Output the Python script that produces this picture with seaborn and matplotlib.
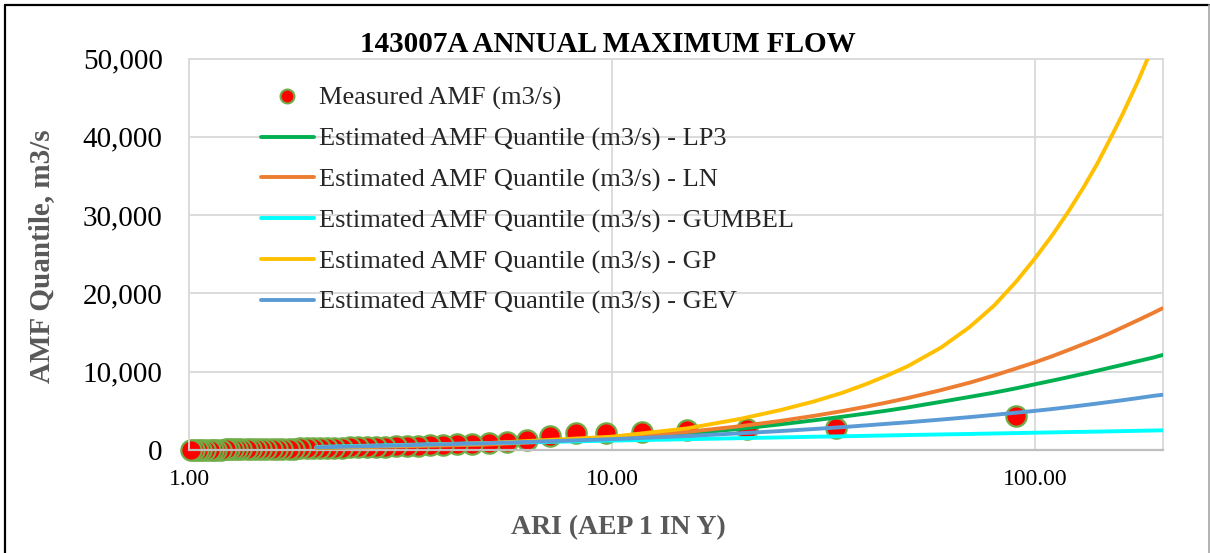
import matplotlib
matplotlib.use("Agg")
import matplotlib.pyplot as plt
import seaborn as sns
import pandas as pd
from matplotlib.lines import Line2D
from matplotlib.ticker import FixedLocator, NullLocator, FuncFormatter

# ---------------- data ----------------
title = "143007A ANNUAL MAXIMUM FLOW"
x_label = "ARI (AEP 1 IN Y)"
y_label = "AMF Quantile, m3/s"

measured_ari = [90.33, 33.88, 20.85, 15.06, 11.78, 9.68, 8.21, 7.13, 6.30, 5.65,
                5.11, 4.67, 4.30, 3.99, 3.71, 3.47, 3.27, 3.08, 2.91, 2.77,
                2.63, 2.51, 2.40, 2.30, 2.20, 2.12, 2.04, 1.96, 1.90, 1.83,
                1.77, 1.72, 1.66, 1.61, 1.57, 1.52, 1.48, 1.44, 1.40, 1.37,
                1.33, 1.30, 1.27, 1.24, 1.22, 1.19, 1.16, 1.14, 1.12, 1.09,
                1.07, 1.05, 1.03, 1.01]
measured_flow = [4340, 2800, 2700, 2500, 2350, 2150, 2130, 1790, 1280, 1060,
                 900, 800, 720, 660, 600, 550, 510, 470, 440, 410,
                 380, 350, 330, 310, 290, 270, 250, 235, 220, 205,
                 190, 178, 166, 155, 145, 135, 125, 116, 108, 100,
                 92, 85, 78, 71, 65, 59, 53, 47, 42, 36,
                 30, 24, 18, 10]

quantile_ari = [2, 3, 5, 10, 15, 20, 25, 30, 35, 40, 45, 50, 60, 70, 80, 90,
                100, 110, 120, 130, 140, 150, 160, 175, 190, 200]
q_lp3 = [280, 500, 820, 1480, 2080, 2700, 3280, 3790, 4250, 4670, 5060, 5440, 6160,
         6780, 7330, 7870, 8400, 8870, 9310, 9730, 10120, 10500, 10850, 11350, 11800, 12130]
q_ln = [250, 430, 680, 1510, 2300, 3030, 3715, 4360, 4970, 5550, 6110, 6640, 7660,
        8600, 9520, 10400, 11200, 12000, 12780, 13520, 14200, 14900, 15600, 16580, 17500, 18100]
q_gumbel = [390, 620, 875, 1200, 1380, 1510, 1610, 1690, 1750, 1810, 1860, 1910, 1990,
            2050, 2110, 2160, 2210, 2250, 2290, 2320, 2350, 2380, 2410, 2450, 2490, 2510]
q_gp = [300, 520, 860, 1700, 2750, 3950, 5100, 6200, 7300, 8450, 9580, 10700, 13100,
        15700, 18450, 21450, 24500, 27500, 30500, 33500, 36500, 39600, 42600, 47100, 51600, 54600]
q_gev = [330, 560, 860, 1380, 1780, 2130, 2420, 2680, 2920, 3150, 3360, 3540, 3890,
         4200, 4490, 4760, 5000, 5240, 5480, 5710, 5930, 6140, 6340, 6630, 6910, 7050]

series_names = ["Estimated AMF Quantile (m3/s) - LP3",
                "Estimated AMF Quantile (m3/s) - LN",
                "Estimated AMF Quantile (m3/s) - GUMBEL",
                "Estimated AMF Quantile (m3/s) - GP",
                "Estimated AMF Quantile (m3/s) - GEV"]
series_values = [q_lp3, q_ln, q_gumbel, q_gp, q_gev]
series_colors = ["#00B050", "#ED7D31", "#00FFFF", "#FFC000", "#5B9BD5"]
measured_name = "Measured AMF (m3/s)"

x_ticks = [1, 10, 100]
y_ticks = [0, 10000, 20000, 30000, 40000, 50000]

# ---------------- plot ----------------
sns.set_theme(style="white")
plt.rcParams['font.family'] = ['Liberation Serif', 'DejaVu Serif']

W, H = 1210, 553
fig = plt.figure(figsize=(W / 100, H / 100), dpi=100)
fig.patch.set_facecolor("white")
ax = fig.add_axes([189 / W, 1 - 450 / H, (1162.5 - 189) / W, (450 - 58.5) / H])
ax.set_xscale("log")

sns.scatterplot(x=measured_ari, y=measured_flow, ax=ax, s=215,
                color="#FF0000", edgecolor="#70AD47", linewidth=1.6,
                zorder=2, legend=False, clip_on=False)

df = pd.DataFrame({
    "ari": quantile_ari * len(series_names),
    "flow": [v for vals in series_values for v in vals],
    "series": [n for n, vals in zip(series_names, series_values) for _ in vals],
})
sns.lineplot(data=df, x="ari", y="flow", hue="series", hue_order=series_names,
             palette=dict(zip(series_names, series_colors)), ax=ax,
             linewidth=2.8, sort=False, estimator=None, legend=False, zorder=3)

ax.set_xlim(1, 200)
ax.set_ylim(0, 50000)
ax.xaxis.set_major_locator(FixedLocator(x_ticks))
ax.xaxis.set_minor_locator(NullLocator())
ax.xaxis.set_major_formatter(FuncFormatter(lambda v, p: f"{v:.2f}"))
ax.yaxis.set_major_locator(FixedLocator(y_ticks))
ax.yaxis.set_major_formatter(FuncFormatter(lambda v, p: f"{v:,.0f}"))
ax.tick_params(axis="y", length=0, pad=19, labelsize=21, labelcolor="black")
ax.tick_params(axis="x", which="both", length=0, pad=14, labelsize=17, labelcolor="black")
ax.set_xlabel("")
ax.set_ylabel("")

ax.set_axisbelow(True)
ax.grid(True, which="major", color="#D9D9D9", linewidth=1.3)
for side in ["left", "right", "top"]:
    ax.spines[side].set_color("#D9D9D9")
    ax.spines[side].set_linewidth(1.3)
ax.spines["bottom"].set_color("#BFBFBF")
ax.spines["bottom"].set_linewidth(1.6)

# legend
handles = [Line2D([], [], marker="o", linestyle="", markersize=10,
                  markerfacecolor="#FF0000", markeredgecolor="#70AD47",
                  markeredgewidth=1.5)]
handles += [Line2D([], [], color=c, linewidth=2.8) for c in series_colors]
labels = [measured_name] + series_names
ax.legend(handles, labels, loc="upper left",
          bbox_to_anchor=(261 / W, 1 - 86.5 / H), bbox_transform=fig.transFigure,
          frameon=False, fontsize=19, handlelength=2.0, handletextpad=0.2,
          labelspacing=0.64, borderpad=0, borderaxespad=0)

# titles
fig.text(608 / W, 1 - 44 / H, title, ha="center", va="center",
         fontsize=21, fontweight="bold", color="black")
fig.text(42 / W, 1 - 256 / H, y_label, ha="center", va="center",
         rotation=90, fontsize=21, fontweight="bold", color="#595959")
fig.text(618 / W, 1 - 528 / H, x_label, ha="center", va="center",
         fontsize=20, fontweight="bold", color="#595959")

# chart area border (cropped)
fig.add_artist(Line2D([5 / W, 5 / W], [0, 1 - 4.5 / H], transform=fig.transFigure,
                      color="black", linewidth=1.6))
fig.add_artist(Line2D([5 / W, 1209 / W], [1 - 4.5 / H, 1 - 4.5 / H],
                      transform=fig.transFigure, color="black", linewidth=1.6))
fig.add_artist(Line2D([1209 / W, 1209 / W], [0, 1 - 4.5 / H], transform=fig.transFigure,
                      color="#A6A6A6", linewidth=1.2))

fig.savefig("out.png", dpi=100, facecolor="white")
